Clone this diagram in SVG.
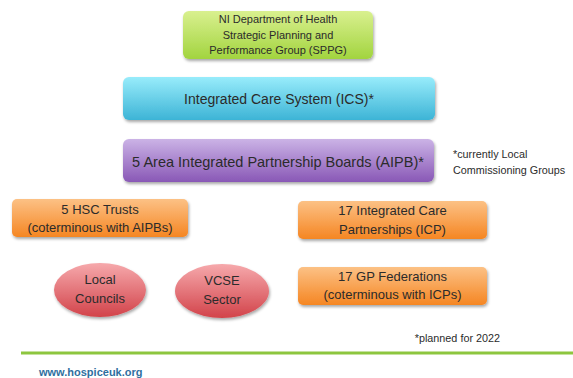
<svg xmlns="http://www.w3.org/2000/svg" width="573" height="378" viewBox="0 0 573 378">
<style>
text{font-family:"Liberation Sans",Arial,sans-serif;fill:#2b2b2b;text-anchor:middle}
.n{font-size:11px}
.m{font-size:13px}
.l{font-size:14px}
.note{font-size:10.8px;text-anchor:start}
.url{font-size:11px;font-weight:bold;fill:#2f6f9f;text-anchor:start}
</style>
<defs>
<filter id="sh" x="-10%" y="-20%" width="120%" height="150%">
<feGaussianBlur in="SourceAlpha" stdDeviation="1.6"/>
<feOffset dx="1" dy="2" result="b"/>
<feComponentTransfer><feFuncA type="linear" slope="0.35"/></feComponentTransfer>
<feMerge><feMergeNode/><feMergeNode in="SourceGraphic"/></feMerge>
</filter>
<linearGradient id="gG" x1="0" y1="0" x2="0" y2="1"><stop offset="0" stop-color="#d9f08f"/><stop offset="1" stop-color="#a2d43f"/></linearGradient>
<linearGradient id="gC" x1="0" y1="0" x2="0" y2="1"><stop offset="0" stop-color="#98ecfb"/><stop offset="1" stop-color="#3db4d6"/></linearGradient>
<linearGradient id="gP" x1="0" y1="0" x2="0" y2="1"><stop offset="0" stop-color="#cbb3e6"/><stop offset="1" stop-color="#8958b6"/></linearGradient>
<linearGradient id="gO" x1="0" y1="0" x2="0" y2="1"><stop offset="0" stop-color="#fcc185"/><stop offset="1" stop-color="#f58623"/></linearGradient>
<linearGradient id="gR" x1="0" y1="0" x2="0" y2="1"><stop offset="0" stop-color="#f6a9ac"/><stop offset="1" stop-color="#d2434a"/></linearGradient>
</defs>
<rect width="573" height="378" fill="#fff"/>
<g id="connectors"/>
<g id="sppg">
<rect x="183" y="11" width="190" height="48" rx="6" fill="url(#gG)" filter="url(#sh)"/>
<text class="n" x="278" y="23">NI Department of Health</text>
<text class="n" x="278" y="38.5">Strategic Planning and</text>
<text class="n" x="278" y="54">Performance Group (SPPG)</text>
</g>
<g id="ics">
<rect x="123" y="77" width="312" height="43" rx="6" fill="url(#gC)" filter="url(#sh)"/>
<text class="l" x="279" y="104">Integrated Care System (ICS)*</text>
</g>
<g id="aipb">
<rect x="123" y="139" width="311" height="43" rx="6" fill="url(#gP)" filter="url(#sh)"/>
<text class="l" x="278" y="167" style="font-size:14.5px">5 Area Integrated Partnership Boards (AIPB)*</text>
</g>
<g id="note1">
<text class="note" x="453" y="158">*currently Local</text>
<text class="note" x="453" y="174">Commissioning Groups</text>
</g>
<g id="hsc">
<rect x="12" y="199" width="176" height="38" rx="5" fill="url(#gO)" filter="url(#sh)"/>
<text class="m" x="100" y="213.5">5 HSC Trusts</text>
<text class="m" x="100" y="232">(coterminous with AIPBs)</text>
</g>
<g id="icp">
<rect x="298" y="201" width="189" height="38" rx="5" fill="url(#gO)" filter="url(#sh)"/>
<text class="m" x="392.5" y="214.5">17 Integrated Care</text>
<text class="m" x="392.5" y="233.5">Partnerships (ICP)</text>
</g>
<g id="councils">
<ellipse cx="100" cy="290" rx="46" ry="27" fill="url(#gR)" filter="url(#sh)"/>
<text class="m" x="100" y="284">Local</text>
<text class="m" x="100" y="302.5">Councils</text>
</g>
<g id="vcse">
<ellipse cx="222" cy="291" rx="47" ry="27" fill="url(#gR)" filter="url(#sh)"/>
<text class="m" x="222" y="285">VCSE</text>
<text class="m" x="222" y="304">Sector</text>
</g>
<g id="gpfed">
<rect x="298" y="267" width="189" height="38" rx="5" fill="url(#gO)" filter="url(#sh)"/>
<text class="m" x="392.5" y="280.5">17 GP Federations</text>
<text class="m" x="392.5" y="299">(coterminous with ICPs)</text>
</g>
<g id="note2">
<text class="note" x="500" y="342" style="text-anchor:end">*planned for 2022</text>
</g>
<g id="footer">
<rect x="21" y="351.5" width="552" height="3" fill="#8dc63f"/>
<text class="url" x="39" y="376">www.hospiceuk.org</text>
</g>
</svg>
